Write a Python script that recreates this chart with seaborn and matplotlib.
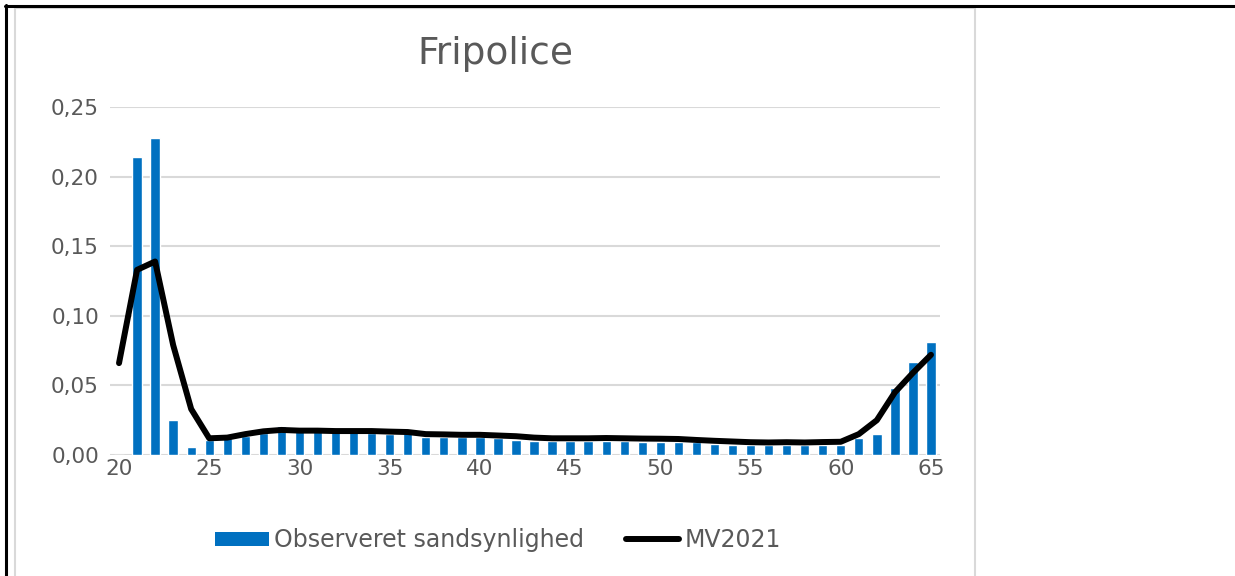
import numpy as np
import pandas as pd
import matplotlib
matplotlib.use("Agg")
import matplotlib.pyplot as plt
import seaborn as sns
from matplotlib.patches import Patch, Rectangle
from matplotlib.lines import Line2D

ages = list(range(20, 66))
observed = [0.0, 0.214, 0.228, 0.025, 0.006, 0.011, 0.012, 0.014, 0.016, 0.021,
            0.018, 0.017, 0.017, 0.017, 0.016, 0.015, 0.016, 0.013, 0.013, 0.013,
            0.013, 0.012, 0.011, 0.010, 0.010, 0.010, 0.010, 0.010, 0.010, 0.009,
            0.009, 0.009, 0.009, 0.008, 0.007, 0.007, 0.007, 0.007, 0.007, 0.007,
            0.007, 0.012, 0.015, 0.048, 0.067, 0.081]
mv2021 = [0.066, 0.133, 0.139, 0.079, 0.033, 0.012, 0.0125, 0.015, 0.017, 0.018,
          0.0175, 0.0175, 0.0172, 0.0172, 0.0172, 0.0168, 0.0165, 0.015, 0.0148, 0.0145,
          0.0145, 0.014, 0.0135, 0.0125, 0.012, 0.012, 0.012, 0.0122, 0.012, 0.0118,
          0.0117, 0.0115, 0.0108, 0.0102, 0.0097, 0.0092, 0.009, 0.0092, 0.009, 0.0093,
          0.0095, 0.015, 0.025, 0.045, 0.059, 0.072]
title = "Fripolice"
bar_label = "Observeret sandsynlighed"
line_label = "MV2021"
yticks = [0.0, 0.05, 0.10, 0.15, 0.20, 0.25]
xticks = [20, 25, 30, 35, 40, 45, 50, 55, 60, 65]

df = pd.DataFrame({"age": ages, "obs": observed, "mv": mv2021})

sns.set_theme(style="white")
plt.rcParams["font.family"] = ["DejaVu Sans"]

W, H = 1235, 576
fig = plt.figure(figsize=(W / 100, H / 100), dpi=100)
ax = fig.add_axes([110 / W, 1 - 455 / H, 830 / W, 348 / H])

blue = "#0070C0"
gray_text = "#595959"
grid = "#D9D9D9"

sns.barplot(data=df, x="age", y="obs", native_scale=True, color=blue,
            saturation=1, width=0.52, ax=ax, zorder=2)
sns.lineplot(data=df, x="age", y="mv", color="black", linewidth=4.3, ax=ax,
             zorder=3, solid_capstyle="round", solid_joinstyle="round")

ax.set_xlim(19.5, 65.5)
ax.set_ylim(0, 0.25)
ax.set_yticks(yticks)
ax.set_yticklabels([f"{v:.2f}".replace(".", ",") for v in yticks])
ax.set_xticks(xticks)
ax.set_xticklabels([str(v) for v in xticks])
ax.tick_params(axis="both", length=0, labelsize=15.5, colors=gray_text)
ax.tick_params(axis="y", pad=8)
ax.tick_params(axis="x", pad=3)
for s in ax.spines.values():
    s.set_visible(False)
ax.yaxis.grid(True, color=grid, linewidth=1.5, zorder=0)
ax.xaxis.grid(False)
ax.set_axisbelow(True)
ax.set_xlabel("")
ax.set_ylabel("")

fig.text(495 / W, 1 - 54 / H, title, ha="center", va="center",
         fontsize=27, color=gray_text)

handles = [Patch(facecolor=blue, edgecolor="none", label=bar_label),
           Line2D([0], [0], color="black", linewidth=4.3,
                  solid_capstyle="round", label=line_label)]
leg = fig.legend(handles=handles, loc="center", ncol=2, frameon=False,
                 bbox_to_anchor=(498 / W, 1 - 540 / H), fontsize=17,
                 handlelength=2.25, handleheight=0.55, handletextpad=0.21,
                 columnspacing=1.8)
for t in leg.get_texts():
    t.set_color(gray_text)

# chart area border and outer frame
fig.add_artist(Rectangle((15 / W, -0.05), 960 / W, 1 - 8 / H + 0.05,
                         transform=fig.transFigure, fill=False,
                         edgecolor="#D9D9D9", linewidth=1.5))
fig.add_artist(Line2D([5 / W, 1], [1 - 6 / H, 1 - 6 / H], color="black",
                      linewidth=2.2, transform=fig.transFigure))
fig.add_artist(Line2D([6 / W, 6 / W], [0, 1 - 5 / H], color="black",
                      linewidth=2.2, transform=fig.transFigure))

fig.savefig("out.png", dpi=100)
